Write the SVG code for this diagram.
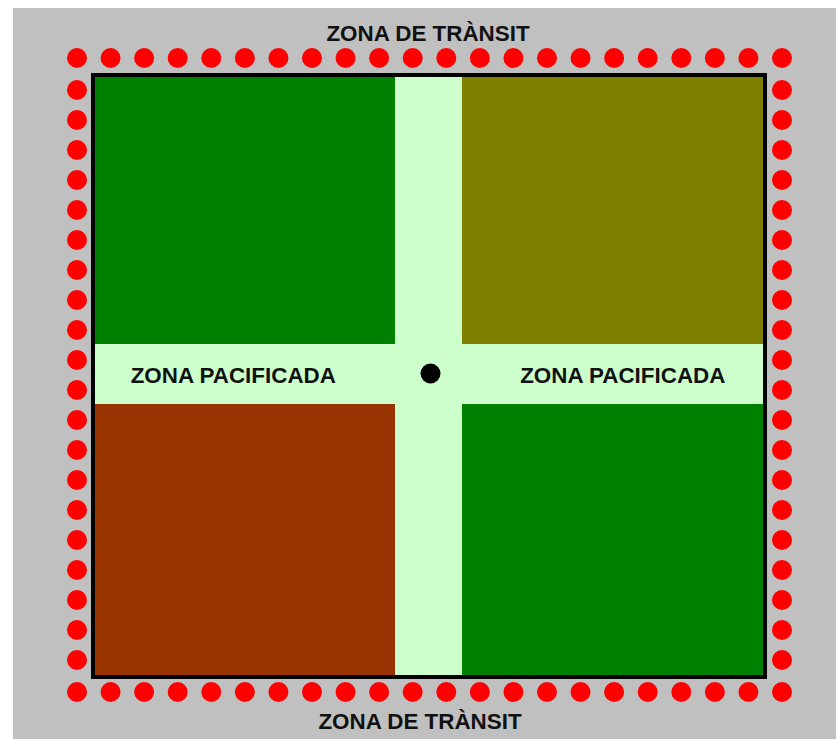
<svg xmlns="http://www.w3.org/2000/svg" xmlns:xlink="http://www.w3.org/1999/xlink" width="836" height="739" viewBox="0 0 836 739">
  <style>
    .lbl { font-family: "Liberation Sans", Arial, sans-serif; font-weight: bold; font-size: 22.4px; fill: #111111; text-anchor: middle; }
    .dot { fill: #FF0000; }
  </style>
  <defs>
    <circle id="d" r="10" class="dot"/>
  </defs>
  <rect x="0" y="0" width="836" height="739" fill="#FFFFFF"/>
  <rect x="13" y="8" width="823" height="731" fill="#C0C0C0"/>

  <g id="transit-dots">
    <!-- top row -->
    <use xlink:href="#d" x="77" y="58"/><use xlink:href="#d" x="110.57" y="58"/><use xlink:href="#d" x="144.14" y="58"/><use xlink:href="#d" x="177.71" y="58"/><use xlink:href="#d" x="211.29" y="58"/><use xlink:href="#d" x="244.86" y="58"/><use xlink:href="#d" x="278.43" y="58"/><use xlink:href="#d" x="312" y="58"/><use xlink:href="#d" x="345.57" y="58"/><use xlink:href="#d" x="379.14" y="58"/><use xlink:href="#d" x="412.71" y="58"/><use xlink:href="#d" x="446.29" y="58"/><use xlink:href="#d" x="479.86" y="58"/><use xlink:href="#d" x="513.43" y="58"/><use xlink:href="#d" x="547" y="58"/><use xlink:href="#d" x="580.57" y="58"/><use xlink:href="#d" x="614.14" y="58"/><use xlink:href="#d" x="647.71" y="58"/><use xlink:href="#d" x="681.29" y="58"/><use xlink:href="#d" x="714.86" y="58"/><use xlink:href="#d" x="748.43" y="58"/><use xlink:href="#d" x="782" y="58"/>
    <!-- bottom row -->
    <use xlink:href="#d" x="77" y="692"/><use xlink:href="#d" x="110.57" y="692"/><use xlink:href="#d" x="144.14" y="692"/><use xlink:href="#d" x="177.71" y="692"/><use xlink:href="#d" x="211.29" y="692"/><use xlink:href="#d" x="244.86" y="692"/><use xlink:href="#d" x="278.43" y="692"/><use xlink:href="#d" x="312" y="692"/><use xlink:href="#d" x="345.57" y="692"/><use xlink:href="#d" x="379.14" y="692"/><use xlink:href="#d" x="412.71" y="692"/><use xlink:href="#d" x="446.29" y="692"/><use xlink:href="#d" x="479.86" y="692"/><use xlink:href="#d" x="513.43" y="692"/><use xlink:href="#d" x="547" y="692"/><use xlink:href="#d" x="580.57" y="692"/><use xlink:href="#d" x="614.14" y="692"/><use xlink:href="#d" x="647.71" y="692"/><use xlink:href="#d" x="681.29" y="692"/><use xlink:href="#d" x="714.86" y="692"/><use xlink:href="#d" x="748.43" y="692"/><use xlink:href="#d" x="782" y="692"/>
    <!-- left column -->
    <use xlink:href="#d" x="77" y="90"/><use xlink:href="#d" x="77" y="120"/><use xlink:href="#d" x="77" y="150"/><use xlink:href="#d" x="77" y="180"/><use xlink:href="#d" x="77" y="210"/><use xlink:href="#d" x="77" y="240"/><use xlink:href="#d" x="77" y="270"/><use xlink:href="#d" x="77" y="300"/><use xlink:href="#d" x="77" y="330"/><use xlink:href="#d" x="77" y="360"/><use xlink:href="#d" x="77" y="390"/><use xlink:href="#d" x="77" y="420"/><use xlink:href="#d" x="77" y="450"/><use xlink:href="#d" x="77" y="480"/><use xlink:href="#d" x="77" y="510"/><use xlink:href="#d" x="77" y="540"/><use xlink:href="#d" x="77" y="570"/><use xlink:href="#d" x="77" y="600"/><use xlink:href="#d" x="77" y="630"/><use xlink:href="#d" x="77" y="660"/>
    <!-- right column -->
    <use xlink:href="#d" x="782" y="90"/><use xlink:href="#d" x="782" y="120"/><use xlink:href="#d" x="782" y="150"/><use xlink:href="#d" x="782" y="180"/><use xlink:href="#d" x="782" y="210"/><use xlink:href="#d" x="782" y="240"/><use xlink:href="#d" x="782" y="270"/><use xlink:href="#d" x="782" y="300"/><use xlink:href="#d" x="782" y="330"/><use xlink:href="#d" x="782" y="360"/><use xlink:href="#d" x="782" y="390"/><use xlink:href="#d" x="782" y="420"/><use xlink:href="#d" x="782" y="450"/><use xlink:href="#d" x="782" y="480"/><use xlink:href="#d" x="782" y="510"/><use xlink:href="#d" x="782" y="540"/><use xlink:href="#d" x="782" y="570"/><use xlink:href="#d" x="782" y="600"/><use xlink:href="#d" x="782" y="630"/><use xlink:href="#d" x="782" y="660"/>
  </g>

  <g id="area">
    <rect x="93" y="75" width="672" height="602" fill="#CCFFCC"/>
    <rect id="q-top-left" x="95" y="77" width="300" height="267" fill="#008000"/>
    <rect id="q-top-right" x="462" y="77" width="301" height="267" fill="#808000"/>
    <rect id="q-bottom-left" x="95" y="404" width="300" height="271" fill="#993300"/>
    <rect id="q-bottom-right" x="462" y="404" width="301" height="271" fill="#008000"/>
    <rect x="93" y="75" width="672" height="602" fill="none" stroke="#000000" stroke-width="4"/>
    <circle id="center" cx="430.5" cy="373.5" r="10" fill="#000000"/>
  </g>

  <g id="labels">
    <text class="lbl" x="428" y="41">ZONA DE TRÀNSIT</text>
    <text class="lbl" x="420" y="729">ZONA DE TRÀNSIT</text>
    <text class="lbl" x="233.3" y="383.3">ZONA PACIFICADA</text>
    <text class="lbl" x="622.8" y="383.3">ZONA PACIFICADA</text>
  </g>
</svg>
